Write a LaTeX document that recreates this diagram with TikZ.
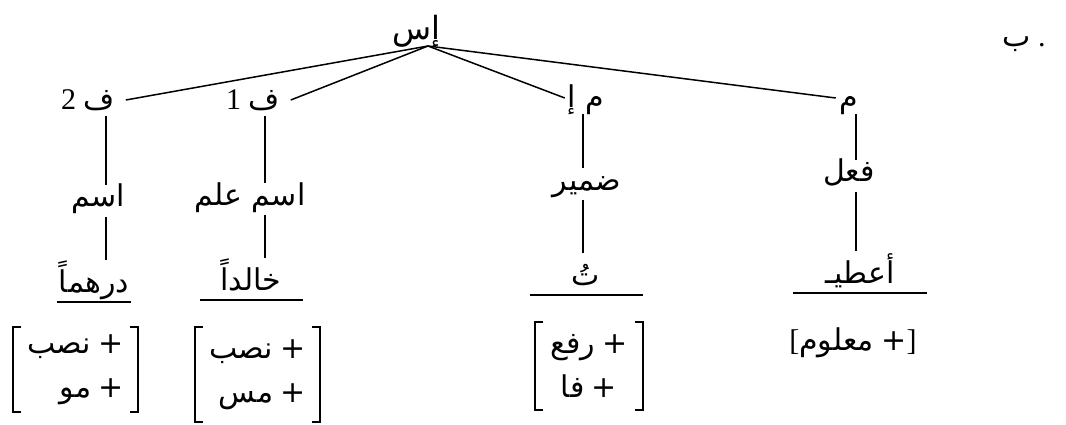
\documentclass[tikz,border=0pt]{standalone}
\usepackage{fontspec}
\setmainfont{Liberation Serif}
\newfontfamily\arabicfont[Script=Arabic]{DejaVu Sans}
\newfontfamily\plusfont{DejaVu Sans}
\TeXXeTstate=1
\newcommand{\ar}[1]{{\arabicfont\beginR#1\endR}}
\newcommand{\pl}{{\plusfont +}}
\newcommand{\sqbr}[1]{%
  \draw[brk] ([xshift=8pt]#1.north west) -- (#1.north west) -- (#1.south west) -- ([xshift=8pt]#1.south west);
  \draw[brk] ([xshift=-8pt]#1.north east) -- (#1.north east) -- (#1.south east) -- ([xshift=-8pt]#1.south east);}
\begin{document}
\begin{tikzpicture}[x=1pt,y=-1pt,
  every node/.style={inner sep=0pt, outer sep=0pt},
  arfont/.style={font=\fontsize{30}{34}\selectfont},
  lvlone/.style={arfont, text height=26pt, text depth=6pt, anchor=base},
  lvltwo/.style={arfont, text height=22pt, text depth=10pt, anchor=base},
  lvlthree/.style={arfont, text height=32pt, text depth=10pt, anchor=base},
  feat/.style={font=\fontsize{30}{44}\selectfont},
  edge/.style={line width=1.5pt},
  vln/.style={line width=1.1pt},
  uln/.style={line width=1.1pt},
  brk/.style={line width=1.3pt}]
\useasboundingbox (0,0) rectangle (1066,425);

% root
\node[arfont, anchor=base, font=\fontsize{32}{36}\selectfont] (root) at (416,40) {\ar{إس}};
\coordinate (apex) at (428,46);

% label top right
\node[arfont, anchor=base] (lab) at (1024,47) {\ar{ب}\ .};

% column x positions
\coordinate (cA) at (106,0);
\coordinate (cB) at (265,0);
\coordinate (cC) at (583,0);
\coordinate (cD) at (856,0);

% level 1
\node[lvlone, inner xsep=11pt] (f2) at (88,110) {\fontsize{30}{34}\selectfont 2\ \ar{ف}};
\node[lvlone, inner xsep=11pt] (f1) at (253,110) {\fontsize{30}{34}\selectfont 1\ \ar{ف}};
\node[lvlone, inner xsep=3pt] (mi) at (586,108) {\ar{م إ}};
\node[lvlone, inner xsep=4pt] (m)  at (849,108) {\ar{م}};

% level 2
\node[lvltwo] (A2) at (98,207) {\ar{اسم}};
\node[lvltwo] (B2) at (250,205) {\ar{اسم علم}};
\node[lvltwo] (C2) at (587,190) {\ar{ضمير}};
\node[lvltwo] (D2) at (849,182) {\ar{فعل}};

% level 3
\node[lvlthree, minimum width=74pt] (A3) at (94,292) {\ar{درهماً}};
\node[lvlthree, minimum width=103pt] (B3) at (251,290) {\ar{خالداً}};
\node[lvlthree, minimum width=113pt] (C3) at (586,285) {\ar{تُ}};
\node[lvlthree, minimum width=134pt] (D3) at (860,283) {\ar{أعطيـ}};

% feature groups
\node[feat, align=right, minimum width=125pt, minimum height=85pt] (G1) at (75.5,369.5)
  {\ar{نصب}\ \pl\\\ar{مو}\ \pl};
\node[feat, align=right, minimum width=125pt, minimum height=95pt] (G2) at (257.5,374.5)
  {\ar{نصب}\ \pl\\\ar{مس}\ \pl};
\node[feat, align=center, minimum width=108pt, minimum height=88pt] (G3) at (589,366)
  {\ar{رفع}\ \pl\\\ar{فا}\ \pl};
\node[arfont] (G4) at (853,343) {[\ar{معلوم}\ \pl]};

% edges from root
\draw[edge] (apex) -- (f2.east);
\draw[edge] (apex) -- (f1.east);
\draw[edge] (apex) -- (mi.west);
\draw[edge] (apex) -- (m.west);

% vertical lines
\draw[vln] (f2.south -| cA) -- (A2.north -| cA);
\draw[vln] (A2.south -| cA) -- (A3.north -| cA);
\draw[vln] (f1.south -| cB) -- (B2.north -| cB);
\draw[vln] (B2.south -| cB) -- (B3.north -| cB);
\draw[vln] (mi.south -| cC) -- (C2.north -| cC);
\draw[vln] (C2.south -| cC) -- (C3.north -| cC);
\draw[vln] (m.south -| cD) -- (D2.north -| cD);
\draw[vln] (D2.south -| cD) -- (D3.north -| cD);

% underlines
\draw[uln] (A3.south west) -- (A3.south east);
\draw[uln] (B3.south west) -- (B3.south east);
\draw[uln] (C3.south west) -- (C3.south east);
\draw[uln] (D3.south west) -- (D3.south east);

% brackets
\sqbr{G1}
\sqbr{G2}
\sqbr{G3}
\end{tikzpicture}
\end{document}
